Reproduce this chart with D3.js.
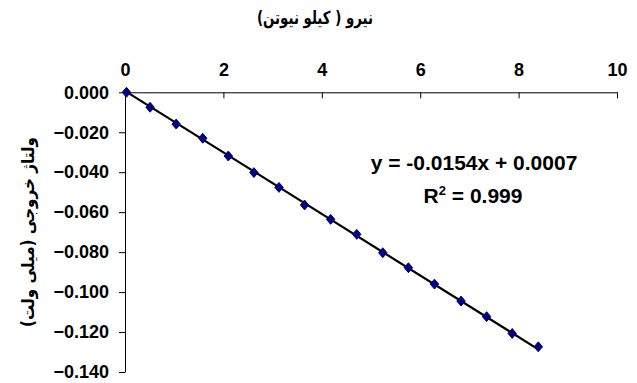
<!DOCTYPE html>
<html><head><meta charset="utf-8">
<script src="https://cdn.jsdelivr.net/npm/d3@7"></script>
<style>body{margin:0;background:#fff}svg{display:block}</style>
</head><body>
<script>
const forceKN = [0.03, 0.51, 1.04, 1.58, 2.10, 2.62, 3.13, 3.65, 4.18, 4.71, 5.24, 5.76, 6.29, 6.83, 7.35, 7.87, 8.40];
const voltMV = [0.000, -0.0075, -0.0159, -0.0230, -0.0319, -0.0402, -0.0476, -0.0564, -0.0636, -0.0711, -0.0803, -0.0878, -0.0960, -0.1045, -0.1123, -0.1207, -0.1274];
const trendCoef = [-0.0154, 0.0007];
const xTicks = [0, 2, 4, 6, 8, 10];
const yTicks = [0, -0.02, -0.04, -0.06, -0.08, -0.10, -0.12, -0.14];
const xTitle = "نیرو ( کیلو نیوتن)";
const yTitle = "ولتاژ  خروجی  (میلی  ولت)";
const eqText = "y = -0.0154x + 0.0007";

const W = 637, H = 383;
const svg = d3.select("body").append("svg").attr("width", W).attr("height", H);
svg.append("rect").attr("width", W).attr("height", H).attr("fill", "#fff");

const x = d3.scaleLinear().domain([0, 10]).range([125, 617]);
const y = d3.scaleLinear().domain([0, -0.14]).range([92.3, 372]);

const lab = "'Liberation Sans', Arial, sans-serif";

// x axis (top)
const xa = svg.append("g").attr("transform", `translate(0,${y(0)})`)
  .call(d3.axisTop(x).tickValues(xTicks).tickFormat(d3.format("d")).tickSizeInner(-6).tickSizeOuter(0).tickPadding(16));
xa.select(".domain").attr("stroke", "#000");
xa.selectAll(".tick line").attr("stroke", "#000");
xa.selectAll("text").attr("font-family", lab).attr("font-weight", "bold").attr("font-size", 18).attr("fill", "#000");

// y axis
const ya = svg.append("g").attr("transform", `translate(${x(0)},0)`)
  .call(d3.axisLeft(y).tickValues(yTicks).tickFormat(d3.format(".3f")).tickSize(6).tickSizeOuter(0).tickPadding(10));
ya.select(".domain").attr("stroke", "#000");
ya.selectAll(".tick line").attr("stroke", "#000");
ya.selectAll("text").attr("font-family", lab).attr("font-weight", "bold").attr("font-size", 18).attr("fill", "#000");

// trend line
const x0 = d3.min(forceKN), x1 = d3.max(forceKN);
svg.append("line")
  .attr("x1", x(x0)).attr("y1", y(trendCoef[0]*x0 + trendCoef[1]))
  .attr("x2", x(x1)).attr("y2", y(trendCoef[0]*x1 + trendCoef[1]))
  .attr("stroke", "#000").attr("stroke-width", 2.2);

// markers (diamond, slightly taller than wide)
const diamondType = {
  draw(ctx, size) {
    const h = Math.sqrt(size) * 0.62, w = h * 0.85;
    ctx.moveTo(0, -h); ctx.lineTo(w, 0); ctx.lineTo(0, h); ctx.lineTo(-w, 0); ctx.closePath();
  }
};
const diamond = d3.symbol().type(diamondType).size(64);
svg.selectAll("path.pt").data(forceKN.map((d, i) => [d, voltMV[i]])).join("path")
  .attr("class", "pt")
  .attr("d", diamond)
  .attr("transform", d => `translate(${x(d[0])},${y(d[1])})`)
  .attr("fill", "#000080").attr("stroke", "#000080").attr("stroke-width", 1);

// titles
svg.append("text").attr("x", 315).attr("y", 24).attr("text-anchor", "middle")
  .attr("font-family", "'DejaVu Sans', sans-serif").attr("font-weight", "bold").attr("font-size", 18)
  .attr("direction", "rtl").attr("unicode-bidi", "embed")
  .attr("textLength", 116).attr("lengthAdjust", "spacingAndGlyphs")
  .text(xTitle);

svg.append("text").attr("transform", "translate(34,232) rotate(-90)").attr("text-anchor", "middle")
  .attr("font-family", "'DejaVu Sans', sans-serif").attr("font-weight", "bold").attr("font-size", 17)
  .attr("direction", "rtl").attr("unicode-bidi", "embed")
  .attr("textLength", 190).attr("lengthAdjust", "spacingAndGlyphs")
  .text(yTitle);

// equation
svg.append("text").attr("x", 474).attr("y", 170).attr("text-anchor", "middle")
  .attr("font-family", lab).attr("font-weight", "bold").attr("font-size", 21)
  .text(eqText);
const r2 = svg.append("text").attr("x", 473).attr("y", 203).attr("text-anchor", "middle")
  .attr("font-family", lab).attr("font-weight", "bold").attr("font-size", 21);
r2.append("tspan").text("R");
r2.append("tspan").attr("dy", -8).attr("font-size", 13).text("2");
r2.append("tspan").attr("dy", 8).text(" = 0.999");
</script>
</body></html>
